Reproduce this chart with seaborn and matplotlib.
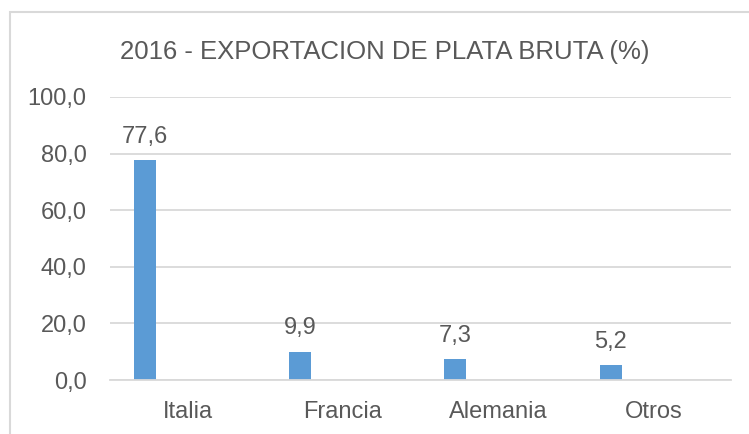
import matplotlib
matplotlib.use("Agg")
import matplotlib.pyplot as plt
import numpy as np
import pandas as pd
import seaborn as sns
from matplotlib.patches import Rectangle
from matplotlib.ticker import FuncFormatter

categories = ["Italia", "Francia", "Alemania", "Otros"]
values = [77.6, 9.9, 7.3, 5.2]
title = "2016 - EXPORTACION DE PLATA BRUTA (%)"

BAR = "#5B9BD5"
GRID = "#D9D9D9"
TEXT = "#595959"

sns.set_style("white")
plt.rcParams["font.family"] = ["Liberation Sans", "DejaVu Sans"]

df = pd.DataFrame({"pais": categories, "pct": values})

fig = plt.figure(figsize=(7.49, 4.34), dpi=100)
ax = fig.add_axes([110 / 749, 1 - 380 / 434, (731 - 110) / 749, (380 - 97) / 434])

sns.barplot(data=df, x="pais", y="pct", color=BAR, width=0.142, saturation=1, ax=ax)

# excel-style clustered layout: bar sits left of the category centre
for p in ax.patches:
    p.set_x(p.get_x() - 0.275)
    p.set_edgecolor("none")

for p, v in zip(ax.patches, values):
    ax.annotate(f"{v:.1f}".replace(".", ","),
                (p.get_x() + p.get_width() / 2, v),
                xytext=(0, 9), textcoords="offset points",
                ha="center", va="bottom", fontsize=17, color=TEXT)

ax.set_xlim(-0.5, 3.5)
ax.set_ylim(0, 100)
ax.set_yticks(np.arange(0, 101, 20))
ax.yaxis.set_major_formatter(FuncFormatter(lambda y, _: f"{y:.1f}".replace(".", ",")))
ax.grid(axis="y", color=GRID, linewidth=1.3)
ax.set_axisbelow(True)
for s in ["top", "right", "left"]:
    ax.spines[s].set_visible(False)
ax.spines["bottom"].set_color(GRID)
ax.spines["bottom"].set_linewidth(1.3)
ax.tick_params(axis="both", length=0, labelsize=17, labelcolor=TEXT)
ax.tick_params(axis="y", pad=17)
ax.tick_params(axis="x", pad=15)
ax.set_xlabel("")
ax.set_ylabel("")

fig.text(385 / 749, 1 - 59 / 434, title, ha="center", va="baseline",
         fontsize=18.5, color=TEXT, family=["Liberation Sans", "DejaVu Sans"])

# chart area border
fig.patches.append(Rectangle((10 / 749, -0.1), 1.2, 1 - 12 / 434 + 0.1,
                             transform=fig.transFigure, fill=False,
                             edgecolor=GRID, linewidth=1.5))

fig.savefig("out.png", dpi=100)
